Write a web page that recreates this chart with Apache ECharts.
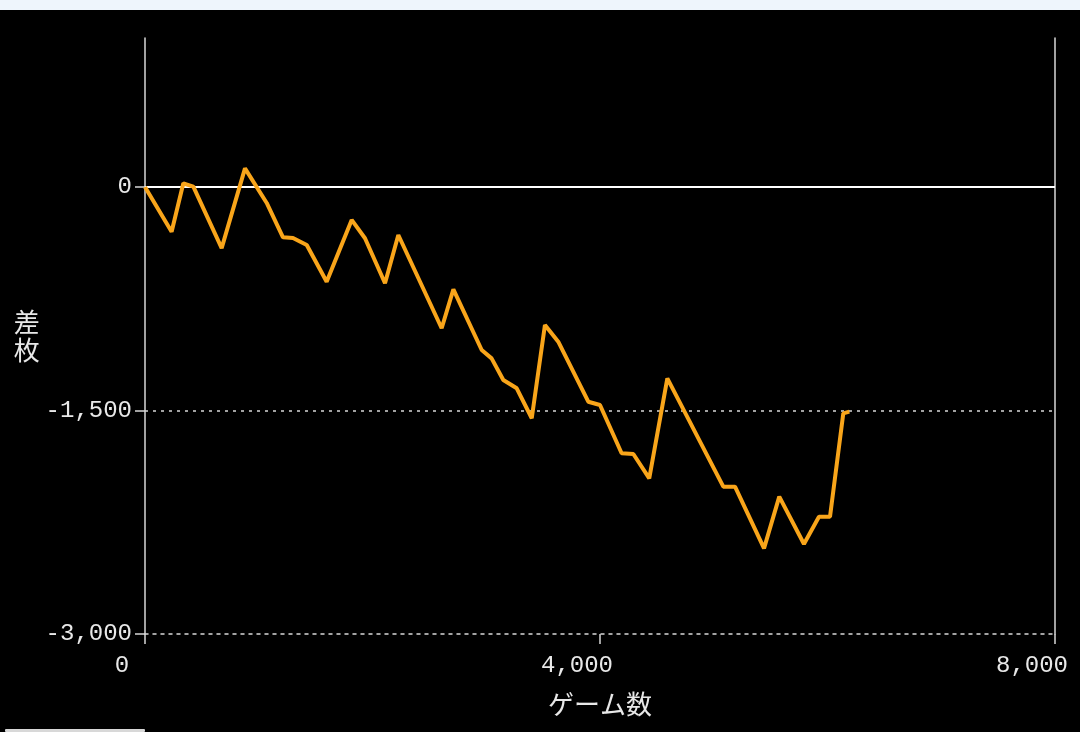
<!DOCTYPE html>
<html>
<head>
<meta charset="utf-8">
<script src="https://cdn.jsdelivr.net/npm/echarts@6/dist/echarts.min.js"></script>
<style>
html,body{margin:0;padding:0;background:#000;}
#chart{width:1080px;height:732px;}
</style>
</head>
<body>
<div id="chart"></div>
<script>
// Games played (x) and coin difference (y)
const games = [0, 234, 337, 425, 674, 879, 1070, 1213, 1301, 1422, 1597, 1817, 1934, 2110, 2227, 2608, 2711, 2960, 3047, 3150, 3268, 3400, 3516, 3633, 3897, 4000, 4190, 4293, 4433, 4592, 5084, 5187, 5442, 5576, 5793, 5925, 6022, 6139, 6192];
const diff = [0, -300, 25, 2, -410, 125, -107, -338, -342, -389, -636, -221, -344, -646, -322, -948, -687, -1094, -1150, -1295, -1351, -1552, -926, -1038, -1441, -1463, -1787, -1792, -1955, -1284, -2011, -2011, -2425, -2078, -2396, -2213, -2213, -1519, -1508];
const xTicks = [0, 4000, 8000];
const yTicks = [-3000, -1500, 0];
const xName = 'ゲーム数';
const yName = '差\n枚';

const fmt = v => Number(v).toLocaleString('en-US');
const numFont = 'Liberation Mono';
const cjkFont = 'Noto Sans CJK JP';

const chart = echarts.init(document.getElementById('chart'));
chart.setOption({
  backgroundColor: '#000',
  animation: false,
  graphic: [
    {type: 'rect', left: 0, top: 0, shape: {width: 1080, height: 10}, style: {fill: '#eef5fc'}},
    {type: 'rect', left: 5, top: 729, shape: {width: 140, height: 3, r: 1}, style: {fill: '#d8d8d8'}}
  ],
  grid: {left: 145, right: 25, top: 38, bottom: 98, containLabel: false, outerBoundsMode: 'none'},
  xAxis: {
    type: 'value',
    min: 0, max: 8000, interval: 4000,
    name: xName,
    nameLocation: 'middle',
    nameGap: 57,
    nameTextStyle: {color: '#e8e8e8', fontFamily: cjkFont, fontSize: 26},
    axisLine: {show: true, onZero: false, lineStyle: {color: '#d8d8d8', width: 1.5, type: [3, 5]}},
    axisTick: {show: true, length: 10, customValues: xTicks, lineStyle: {color: '#d8d8d8', width: 1.5}},
    axisLabel: {
      customValues: xTicks,
      color: '#e8e8e8', fontFamily: numFont, fontSize: 24, margin: 20,
      padding: [0, 46, 0, 0],
      formatter: fmt
    },
    splitLine: {show: false}
  },
  yAxis: [{
    type: 'value',
    min: -3000, max: 1000, interval: 1500,
    name: yName,
    nameLocation: 'middle',
    nameRotate: 0,
    nameGap: 104,
    nameTextStyle: {color: '#e8e8e8', fontFamily: cjkFont, fontSize: 26, lineHeight: 28},
    axisLine: {show: true, lineStyle: {color: '#d8d8d8', width: 1.5}},
    axisTick: {show: true, length: 10, customValues: yTicks, lineStyle: {color: '#d8d8d8', width: 1.5}},
    axisLabel: {
      customValues: yTicks,
      color: '#e8e8e8', fontFamily: numFont, fontSize: 24, margin: 13,
      formatter: fmt
    },
    splitLine: {show: false}
  }, {
    type: 'value',
    position: 'right',
    min: -3000, max: 1000, interval: 1500,
    axisLine: {show: true, lineStyle: {color: '#d8d8d8', width: 1.5}},
    axisTick: {show: false},
    axisLabel: {show: false},
    splitLine: {show: false}
  }],
  series: [{
    type: 'line',
    data: games.map((g, i) => [g, diff[i]]),
    showSymbol: false,
    symbol: 'none',
    lineStyle: {color: '#f9a51a', width: 4},
    z: 5,
    markLine: {
      silent: true,
      symbol: 'none',
      label: {show: false},
      z: 1,
      data: [
        {yAxis: 0, lineStyle: {color: '#ffffff', width: 2, type: 'solid'}},
        {yAxis: -1500, lineStyle: {color: '#d8d8d8', width: 1.5, type: [3, 5]}}
      ]
    }
  }]
});
</script>
</body>
</html>
